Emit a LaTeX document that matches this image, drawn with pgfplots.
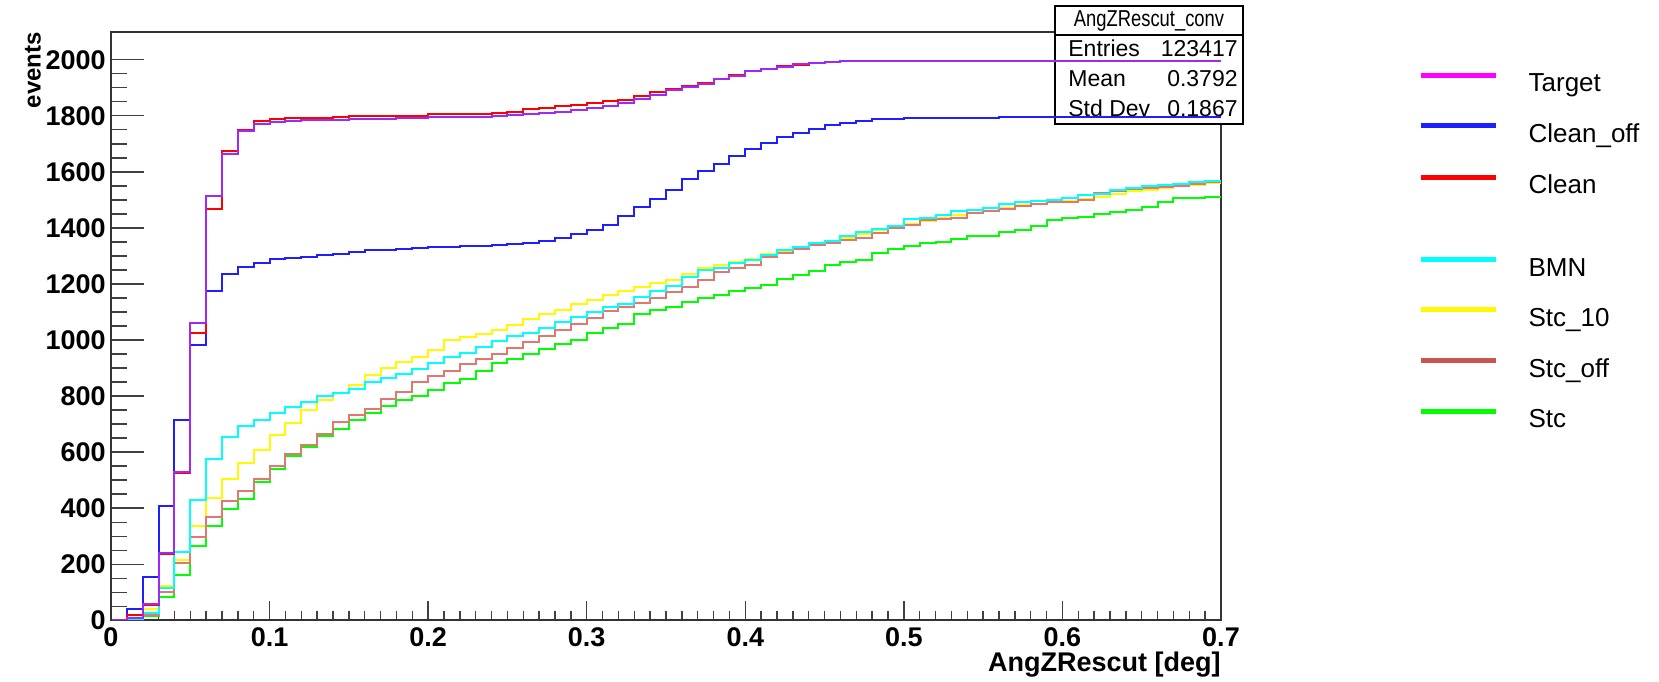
\documentclass[border=0pt]{standalone}
\usepackage{pgfplots}
\pgfplotsset{compat=1.18}
\usepackage{pgfplotstable}
\usepackage{fontspec}
\setmainfont{Liberation Sans}

\definecolor{cTgt}{RGB}{160,40,250}
\definecolor{cCof}{RGB}{30,30,255}
\definecolor{cCln}{RGB}{255,0,0}
\definecolor{cBmn}{RGB}{0,255,255}
\definecolor{cS10}{RGB}{255,250,0}
\definecolor{cSoff}{RGB}{224,120,112}
\definecolor{cStc}{RGB}{0,255,0}
\definecolor{lTgt}{RGB}{255,0,255}
\definecolor{lSoff}{RGB}{200,85,80}

\pgfplotstableread{
x    tgt  cof  cln  bmn  s10  soff stc
0.00 0    0    0    0    0    0    0
0.01 10   40   18   3    8    5    2
0.02 59   154  55   27   41   20   15
0.03 239  408  235  116  123  100  82
0.04 530  714  527  243  216  205  160
0.05 1062 983  1024 430  336  297  266
0.06 1515 1174 1467 575  436  369  335
0.07 1665 1237 1675 655  505  426  398
0.08 1744 1260 1750 694  562  463  434
0.09 1770 1275 1781 714  609  505  495
0.10 1777 1289 1788 741  660  552  540
0.11 1781 1293 1791 760  703  595  586
0.12 1784 1297 1791 779  751  625  618
0.13 1785 1302 1791 799  785  666  659
0.14 1786 1308 1795 812  812  708  681
0.15 1788 1313 1800 827  838  733  714
0.16 1788 1320 1800 850  874  755  741
0.17 1788 1322 1800 865  901  789  764
0.18 1791 1325 1800 878  921  816  785
0.19 1791 1327 1800 897  939  849  799
0.20 1794 1331 1805 917  965  870  823
0.21 1796 1331 1805 939  999  891  845
0.22 1796 1335 1805 955  1010 915  860
0.23 1797 1335 1805 975  1021 934  891
0.24 1799 1339 1811 996  1035 949  917
0.25 1802 1342 1815 1014 1054 973  931
0.26 1806 1347 1825 1024 1076 994  951
0.27 1809 1354 1829 1044 1092 1014 969
0.28 1815 1365 1836 1065 1106 1037 986
0.29 1822 1379 1839 1081 1129 1058 999
0.30 1829 1392 1847 1099 1143 1078 1024
0.31 1836 1410 1851 1119 1160 1102 1042
0.32 1846 1443 1856 1129 1174 1117 1057
0.33 1859 1474 1870 1153 1190 1133 1092
0.34 1873 1502 1884 1174 1205 1151 1106
0.35 1891 1536 1895 1194 1215 1170 1119
0.36 1904 1573 1907 1224 1235 1190 1136
0.37 1914 1604 1918 1249 1256 1215 1149
0.38 1931 1627 1931 1256 1269 1242 1160
0.39 1941 1656 1945 1276 1279 1256 1174
0.40 1959 1682 1959 1287 1290 1269 1185
0.41 1968 1704 1968 1304 1306 1297 1198
0.42 1975 1723 1977 1320 1317 1310 1218
0.43 1983 1740 1982 1331 1331 1324 1231
0.44 1989 1754 1988 1345 1338 1338 1246
0.45 1993 1768 1993 1354 1354 1345 1269
0.46 1996 1775 1996 1372 1365 1358 1279
0.47 1997 1781 1997 1385 1379 1365 1287
0.48 1997 1788 1997 1396 1393 1383 1310
0.49 1997 1788 1997 1407 1398 1398 1323
0.50 1997 1791 1997 1430 1413 1410 1336
0.51 1997 1792 1997 1434 1423 1427 1345
0.52 1997 1792 1997 1445 1436 1432 1351
0.53 1997 1793 1997 1459 1447 1437 1360
0.54 1997 1793 1997 1464 1454 1454 1370
0.55 1997 1793 1997 1471 1462 1462 1370
0.56 1997 1794 1997 1487 1472 1468 1384
0.57 1997 1794 1997 1492 1481 1477 1392
0.58 1997 1794 1997 1497 1487 1485 1407
0.59 1997 1794 1997 1501 1492 1491 1427
0.60 1997 1795 1997 1505 1496 1493 1435
0.61 1997 1795 1997 1516 1502 1501 1440
0.62 1997 1795 1997 1522 1511 1525 1449
0.63 1997 1795 1997 1534 1520 1530 1455
0.64 1997 1795 1997 1543 1531 1539 1465
0.65 1997 1795 1997 1548 1537 1543 1473
0.66 1997 1795 1997 1553 1543 1547 1492
0.67 1997 1795 1997 1558 1549 1551 1505
0.68 1997 1795 1997 1565 1553 1555 1505
0.69 1997 1795 1997 1567 1559 1563 1510
0.70 1997 1795 1997 1567 1559 1563 1510
}\hist

\begin{document}
\begin{tikzpicture}
\path[use as bounding box] (-55.5pt,-30.35pt) rectangle (774pt,310.15pt);
\pgfplotsset{common/.style={
  scale only axis, width=555pt, height=294.3pt,
  at={(0pt,0pt)}, anchor=south west,
  xmin=0, xmax=0.7, ymin=0, ymax=2100,
  axis line style={black!80, line width=0.9pt},
  tick style={black!75, line width=0.7pt},
  tick align=inside,
  /pgf/number format/assume math mode=true,
  /pgf/number format/1000 sep={},
}}
\begin{axis}[common, clip mode=individual,
  xtick={0,0.1,0.2,0.3,0.4,0.5,0.6,0.7},
  xticklabels={0,0.1,0.2,0.3,0.4,0.5,0.6,0.7},
  minor x tick num=9, xtick pos=bottom,
  major tick length=9.5pt, minor tick length=4.5pt,
  ytick=\empty,
  xticklabel style={font=\bfseries\fontsize{13.5}{16}\selectfont, inner sep=0pt, yshift=-3.5pt},
  xlabel={AngZRescut [deg]},
  xlabel style={font=\bfseries\fontsize{13.5}{16}\selectfont, inner sep=0pt, at={(axis description cs:1,-0.087)}, anchor=base east},
  ylabel={events},
  ylabel style={font=\bfseries\fontsize{12}{15}\selectfont, inner sep=0pt, at={(axis description cs:-0.0703,1)}, anchor=east},
  legend style={at={(axis description cs:1.1775,0.935)}, anchor=north west, draw=none, fill=none,
    inner sep=0pt, outer sep=0pt, row sep=10.6pt, font=\fontsize{13}{15}\selectfont,
    /tikz/every odd column/.append style={column sep=13.3pt}},
  legend cell align=left,
  legend image code/.code={\draw[#1, line width=2.5pt] (0pt,4.5pt) -- (37.5pt,4.5pt);},
]
\draw[black, line width=0.8pt, fill=white] (axis description cs:0.85045,0.84319) rectangle (axis description cs:1.01982,1.04366);
\draw[black, line width=0.8pt] (axis description cs:0.85045,0.99439) -- (axis description cs:1.01982,0.99439);
\node[inner sep=0pt, font=\fontsize{11.5}{13}\selectfont] at (axis description cs:0.93514,1.01903) {\scalebox{0.8}[1]{AngZRescut\_conv}};
\node[inner sep=0pt, anchor=base west, font=\fontsize{11.5}{13}\selectfont] at (axis description cs:0.86216,0.95702) {Entries};
\node[inner sep=0pt, anchor=base west, font=\fontsize{11.5}{13}\selectfont] at (axis description cs:0.86216,0.90605) {Mean};
\node[inner sep=0pt, anchor=base west, font=\fontsize{11.5}{13}\selectfont] at (axis description cs:0.86216,0.85508) {Std Dev};
\node[inner sep=0pt, anchor=base east, font=\fontsize{11.5}{13}\selectfont] at (axis description cs:1.01532,0.95702) {123417};
\node[inner sep=0pt, anchor=base east, font=\fontsize{11.5}{13}\selectfont] at (axis description cs:1.01532,0.90605) {0.3792};
\node[inner sep=0pt, anchor=base east, font=\fontsize{11.5}{13}\selectfont] at (axis description cs:1.01532,0.85508) {0.1867};

\addlegendimage{lTgt}\addlegendentry{Target}
\addlegendimage{cCof}\addlegendentry{Clean\_off}
\addlegendimage{cCln}\addlegendentry{Clean}
\addlegendimage{empty legend}\addlegendentry{}
\addlegendimage{cBmn}\addlegendentry{BMN}
\addlegendimage{cS10}\addlegendentry{Stc\_10}
\addlegendimage{lSoff}\addlegendentry{Stc\_off}
\addlegendimage{cStc}\addlegendentry{Stc}

\addplot[const plot, cStc, line width=1pt, forget plot] table[x=x, y=stc]{\hist};
\addplot[const plot, cS10, line width=1pt, forget plot] table[x=x, y=s10]{\hist};
\addplot[const plot, cSoff, line width=1pt, forget plot] table[x=x, y=soff]{\hist};
\addplot[const plot, cBmn, line width=1pt, forget plot] table[x=x, y=bmn]{\hist};
\addplot[const plot, cCof, line width=1pt, forget plot] table[x=x, y=cof]{\hist};
\addplot[const plot, cCln, line width=1pt, forget plot] table[x=x, y=cln]{\hist};
\addplot[const plot, cTgt, line width=1pt, forget plot] table[x=x, y=tgt]{\hist};
\end{axis}

\begin{axis}[common, hide x axis, axis y line*=left,
  ytick={0,200,400,600,800,1000,1200,1400,1600,1800,2000},
  minor y tick num=3,
  major tick length=16.5pt, minor tick length=8pt,
  yticklabel style={font=\bfseries\fontsize{13.5}{16}\selectfont, inner sep=0pt, xshift=-2.5pt},
]
\addplot[draw=none, forget plot] coordinates {(0,0) (0.7,2100)};
\end{axis}
\end{tikzpicture}
\end{document}
